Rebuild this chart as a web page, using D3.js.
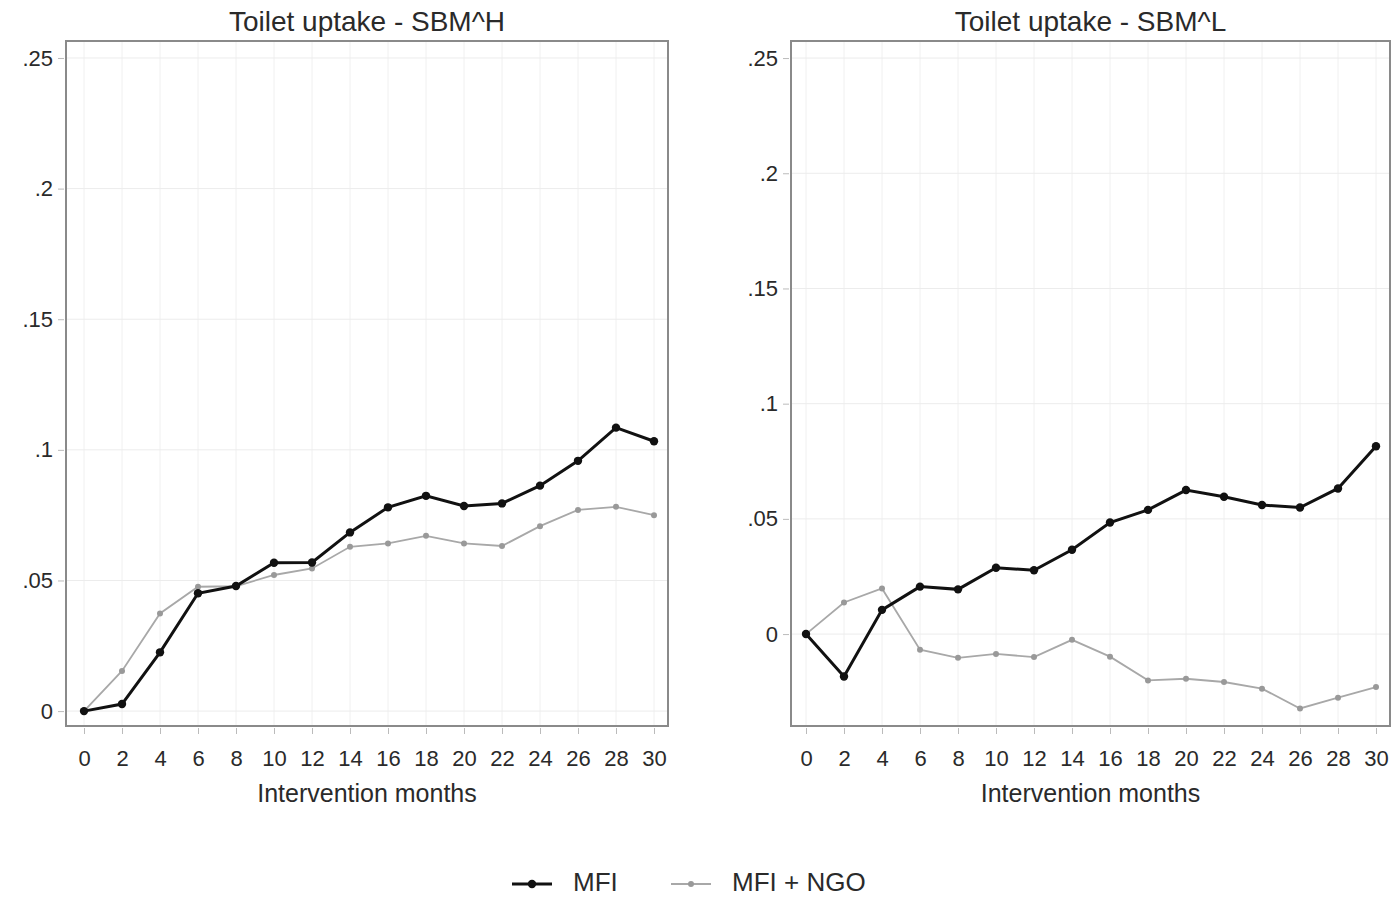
<!DOCTYPE html>
<html>
<head>
<meta charset="utf-8">
<script src="https://cdn.jsdelivr.net/npm/d3@7"></script>
<style>
  body { margin: 0; background: #fff; }
  svg { display: block; font-family: "Liberation Sans", Arial, sans-serif; }
</style>
</head>
<body>
<div id="chart"></div>
<script>
// months on the x axis
const months = [0, 2, 4, 6, 8, 10, 12, 14, 16, 18, 20, 22, 24, 26, 28, 30];

// SBM^H panel
const highMFI = [0, 0.0027, 0.0225, 0.0451, 0.0479, 0.0568, 0.0569, 0.0684, 0.0780, 0.0824, 0.0785, 0.0795, 0.0863, 0.0958, 0.1085, 0.1033];
const highNGO = [0, 0.0154, 0.0374, 0.0476, 0.0478, 0.0521, 0.0546, 0.0629, 0.0642, 0.0671, 0.0642, 0.0632, 0.0708, 0.0770, 0.0782, 0.0750];

// SBM^L panel
const lowMFI = [0, -0.0184, 0.0105, 0.0206, 0.0194, 0.0288, 0.0277, 0.0366, 0.0484, 0.0539, 0.0625, 0.0596, 0.0560, 0.0549, 0.0632, 0.0815];
const lowNGO = [0, 0.0137, 0.0198, -0.0068, -0.0103, -0.0086, -0.0100, -0.0025, -0.0098, -0.0201, -0.0194, -0.0208, -0.0237, -0.0323, -0.0276, -0.0230];

const yTicks = [0, 0.05, 0.1, 0.15, 0.2, 0.25];
const yTickLabels = ['0', '.05', '.1', '.15', '.2', '.25'];
const seriesNames = ['MFI', 'MFI + NGO'];

const W = 1392, H = 898;
const svg = d3.select('#chart').append('svg')
  .attr('width', W)
  .attr('height', H);

const panels = [
  { title: 'Toilet uptake - SBM^H', mfi: highMFI, ngo: highNGO, left: 66, right: 668, x0: 84, x30: 654, yMin: -0.0057, yMax: 0.2565 },
  { title: 'Toilet uptake - SBM^L', mfi: lowMFI, ngo: lowNGO, left: 791, right: 1390, x0: 806, x30: 1376, yMin: -0.0399, yMax: 0.2574 }
];

const plotTop = 41, plotBottom = 726;
const textColor = '#2a2a2a';
const frameColor = '#8a8a8a';

panels.forEach(p => {
  const g = svg.append('g');

  const x = d3.scaleLinear()
    .domain([0, 30])
    .range([p.x0, p.x30]);

  const y = d3.scaleLinear()
    .domain([p.yMin, p.yMax])
    .range([plotBottom, plotTop]);

  // grid
  g.append('g')
    .selectAll('line')
    .data(months)
    .join('line')
    .attr('x1', d => x(d)).attr('x2', d => x(d))
    .attr('y1', plotTop).attr('y2', plotBottom)
    .attr('stroke', '#f0f0f0')
    .attr('stroke-width', 1);

  g.append('g')
    .selectAll('line')
    .data(yTicks)
    .join('line')
    .attr('x1', p.left).attr('x2', p.right)
    .attr('y1', d => y(d)).attr('y2', d => y(d))
    .attr('stroke', '#ececec')
    .attr('stroke-width', 1);

  // frame
  g.append('rect')
    .attr('x', p.left).attr('y', plotTop)
    .attr('width', p.right - p.left).attr('height', plotBottom - plotTop)
    .attr('fill', 'none')
    .attr('stroke', frameColor)
    .attr('stroke-width', 2);

  // y axis
  const yAxis = d3.axisLeft(y)
    .tickValues(yTicks)
    .tickFormat((d, i) => yTickLabels[i])
    .tickSize(6)
    .tickPadding(5);

  const ya = g.append('g')
    .attr('transform', `translate(${p.left - 2},0)`)
    .call(yAxis);
  ya.select('.domain').remove();
  ya.selectAll('line').attr('stroke', '#bbb');
  ya.selectAll('text')
    .attr('fill', textColor)
    .style('font-size', '22px');

  // x axis
  const xAxis = d3.axisBottom(x)
    .tickValues(months)
    .tickSize(6)
    .tickPadding(16);

  const xa = g.append('g')
    .attr('transform', `translate(0,${plotBottom + 2})`)
    .call(xAxis);
  xa.select('.domain').remove();
  xa.selectAll('line').attr('stroke', '#bbb');
  xa.selectAll('text')
    .attr('fill', textColor)
    .style('font-size', '22px');

  // titles
  g.append('text')
    .attr('x', (p.left + p.right) / 2)
    .attr('y', 31)
    .attr('text-anchor', 'middle')
    .attr('fill', textColor)
    .style('font-size', '28px')
    .text(p.title);

  g.append('text')
    .attr('x', (p.left + p.right) / 2)
    .attr('y', 802)
    .attr('text-anchor', 'middle')
    .attr('fill', textColor)
    .style('font-size', '25px')
    .text('Intervention months');

  const line = d3.line()
    .x((d, i) => x(months[i]))
    .y(d => y(d));

  // MFI + NGO (grey, thin)
  g.append('path')
    .datum(p.ngo)
    .attr('d', line)
    .attr('fill', 'none')
    .attr('stroke', '#a8a8a8')
    .attr('stroke-width', 1.8);

  g.append('g')
    .selectAll('circle')
    .data(p.ngo)
    .join('circle')
    .attr('cx', (d, i) => x(months[i]))
    .attr('cy', d => y(d))
    .attr('r', 3)
    .attr('fill', '#999');

  // MFI (black, thick)
  g.append('path')
    .datum(p.mfi)
    .attr('d', line)
    .attr('fill', 'none')
    .attr('stroke', '#111')
    .attr('stroke-width', 3);

  g.append('g')
    .selectAll('circle')
    .data(p.mfi)
    .join('circle')
    .attr('cx', (d, i) => x(months[i]))
    .attr('cy', d => y(d))
    .attr('r', 4.2)
    .attr('fill', '#111');
});

// legend
const legend = svg.append('g').attr('transform', 'translate(0,884)');
const legendItems = [
  { name: seriesNames[0], x: 512, color: '#111', width: 3, r: 4.2, fill: '#111' },
  { name: seriesNames[1], x: 671, color: '#a8a8a8', width: 1.8, r: 3, fill: '#999' }
];
legendItems.forEach(it => {
  legend.append('line')
    .attr('x1', it.x).attr('x2', it.x + 40)
    .attr('y1', 0).attr('y2', 0)
    .attr('stroke', it.color)
    .attr('stroke-width', it.width);
  legend.append('circle')
    .attr('cx', it.x + 20).attr('cy', 0)
    .attr('r', it.r)
    .attr('fill', it.fill);
  legend.append('text')
    .attr('x', it.x + 61)
    .attr('y', 7)
    .attr('fill', textColor)
    .style('font-size', '26px')
    .text(it.name);
});
</script>
</body>
</html>
